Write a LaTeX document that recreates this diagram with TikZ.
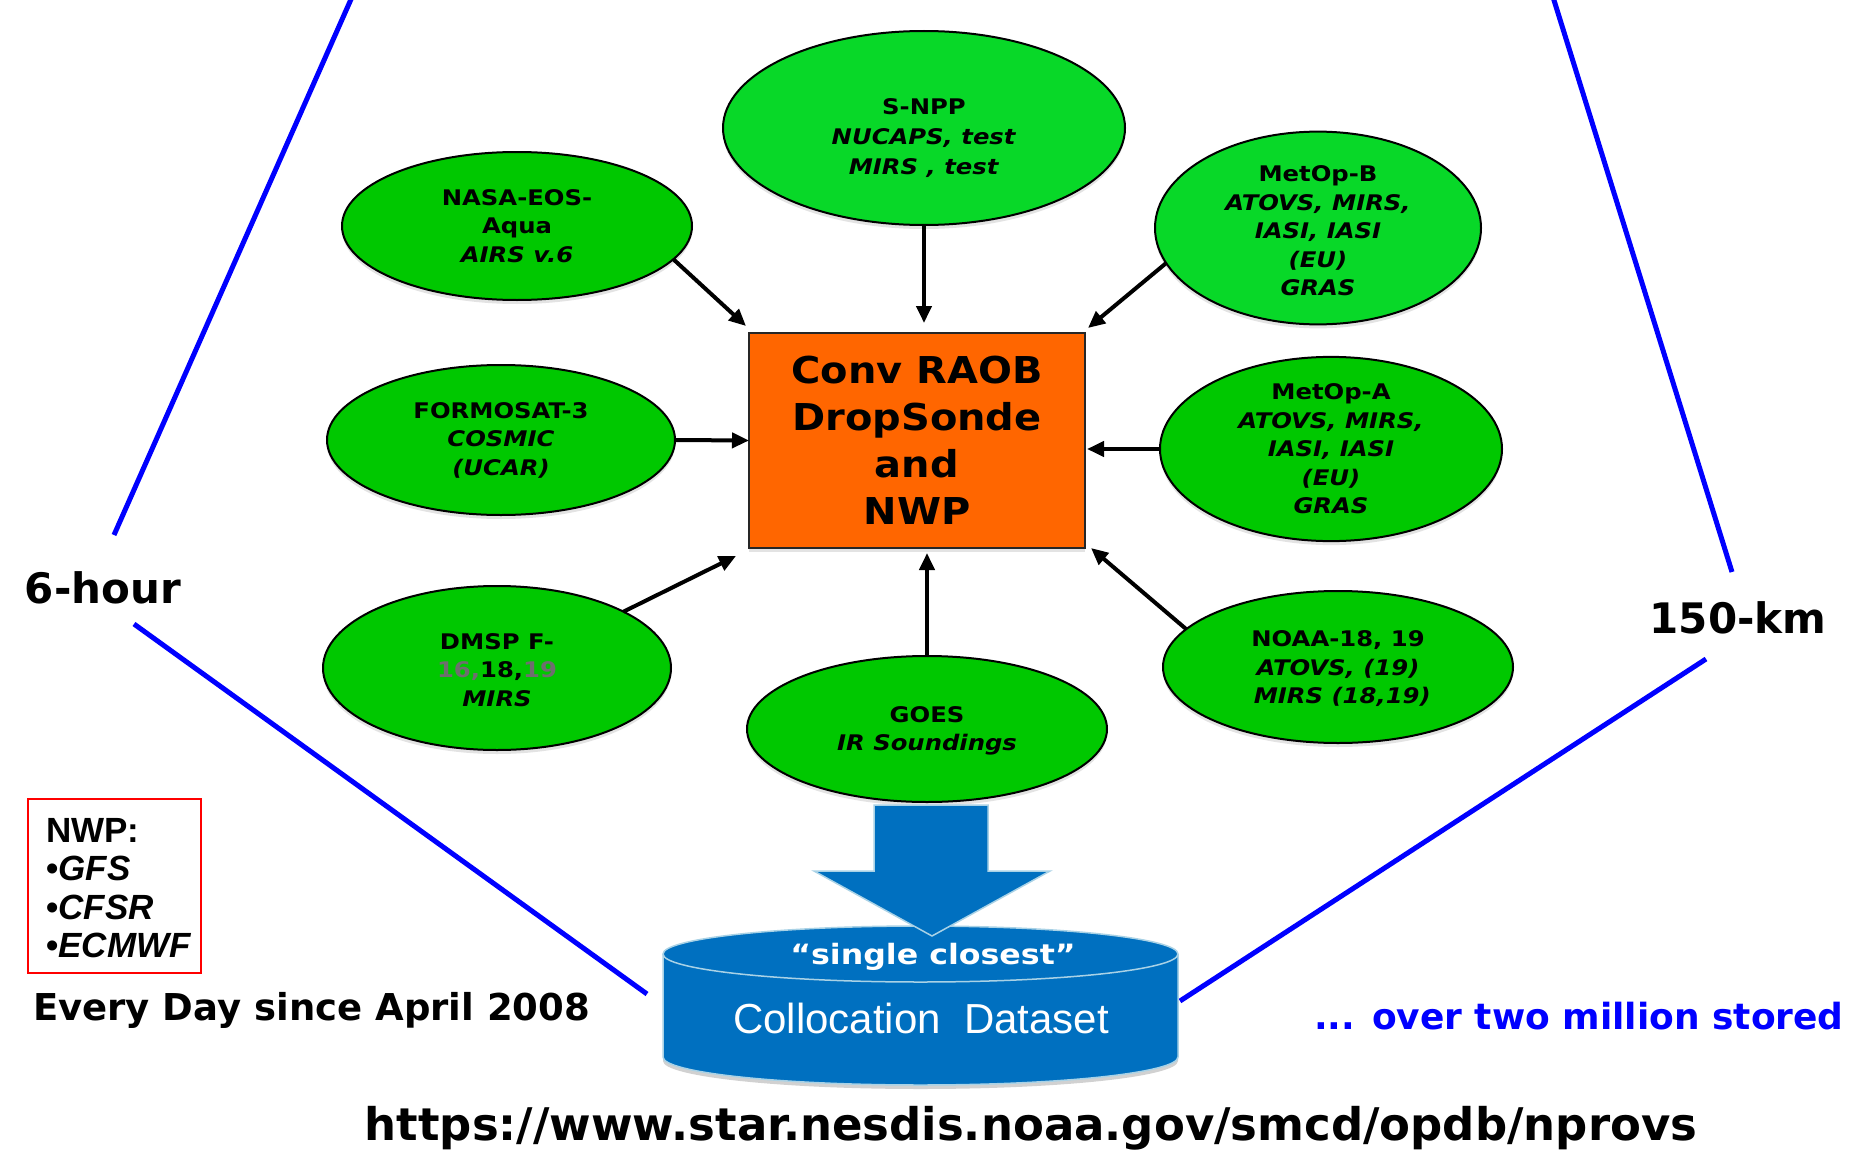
\documentclass[tikz,border=0pt]{standalone}
\usepackage{fontspec}
\setmainfont{DejaVu Sans}
\newfontfamily\wide[FakeStretch=1.13]{DejaVu Sans}
\newfontfamily\widebox[FakeStretch=1.08]{DejaVu Sans}
\newfontfamily\lib{Liberation Sans}
\usetikzlibrary{shapes.geometric,arrows.meta,shadows,calc}
\definecolor{gA}{HTML}{00C800}
\definecolor{gB}{HTML}{08D828}
\definecolor{orng}{HTML}{FF6600}
\definecolor{cylblue}{HTML}{0070C0}
\definecolor{cyledge}{HTML}{A9D2E6}
\definecolor{lineblue}{HTML}{0000FF}
\definecolor{numgray}{HTML}{6E6E6E}
\begin{document}
\begin{tikzpicture}[x=1pt,y=-1pt,
  sat/.style={ellipse, draw=black, line width=2pt, fill=gA, inner sep=0pt, outer sep=0pt,
    align=center, font=\wide\bfseries\fontsize{21.5}{28.5}\selectfont,
    drop shadow={shadow xshift=0pt,shadow yshift=-4pt,opacity=0.22}},
  arr/.style={line width=4pt, -{Triangle[length=17pt,width=15pt]}},
  bl/.style={draw=lineblue, line width=5pt},
]
\useasboundingbox (0,0) rectangle (1856,1156);
\fill[white] (0,0) rectangle (1856,1156);

% blue lines
\coordinate (l1a) at (352,-3);
\coordinate (l1b) at (114,535);
\coordinate (l2a) at (134,624);
\coordinate (l2b) at (647,994);
\coordinate (r1a) at (1553,-3);
\coordinate (r1b) at (1732,572);
\coordinate (r2a) at (1706,659);
\coordinate (r2b) at (1180,1001);
\draw[bl] (l1a) -- (l1b);
\draw[bl] (l2a) -- (l2b);
\draw[bl] (r1a) -- (r1b);
\draw[bl] (r2a) -- (r2b);

% central box
\node[draw=black!85, line width=2pt, fill=orng, minimum width=336pt, minimum height=215pt,
  inner sep=0pt, outer sep=0pt, align=center,
  font=\widebox\bfseries\fontsize{37}{47}\selectfont,
  drop shadow={shadow xshift=0pt,shadow yshift=-4pt,opacity=0.22}]
  (box) at (917,440.5) {Conv RAOB\\DropSonde\\and\\NWP};

% satellites
\node[sat, fill=gB, minimum width=402pt, minimum height=194pt,
  font=\wide\bfseries\fontsize{21.5}{30}\selectfont] (snpp) at (924,128)
  {\rule{0pt}{36pt}S-NPP\\\textit{NUCAPS, test}\\\textit{MIRS , test}};
\node[sat, minimum width=350pt, minimum height=148pt] (nasa) at (517,226)
  {NASA-EOS-\\Aqua\\\textit{AIRS v.6}};
\node[sat, fill=gB, minimum width=326pt, minimum height=150pt] (metb) at (1318,228)
  {\rule{0pt}{22pt}MetOp-B\\\textit{ATOVS, MIRS,}\\\textit{IASI, IASI}\\\textit{(EU)}\\\textit{GRAS}};
\node[sat, minimum width=348pt, minimum height=150pt] (form) at (501,440)
  {FORMOSAT-3\\\textit{COSMIC}\\\textit{(UCAR)}};
\node[sat, minimum width=342pt, minimum height=148pt] (meta) at (1331,449)
  {MetOp-A\\\textit{ATOVS, MIRS,}\\\textit{IASI, IASI}\\\textit{(EU)}\\\textit{GRAS}};
\node[sat, minimum width=348pt, minimum height=164pt] (dmsp) at (497,668)
  {\rule{0pt}{20pt}DMSP F-\\\textcolor{numgray}{16,}18,\textcolor{numgray}{19}\\\textit{MIRS}};
\node[sat, minimum width=360pt, minimum height=146pt] (goes) at (927,729)
  {\rule{0pt}{20pt}GOES\\\textit{IR Soundings}};
\node[sat, minimum width=350pt, minimum height=152pt] (noaa) at (1338,667)
  {\rule{0pt}{20pt}NOAA-18, 19\\\textit{ATOVS, (19)}\\\textit{\ MIRS (18,19)}};

% arrows into the box
\draw[arr] (nasa.-12) -- ($(box.north west)+(-3,-7)$);
\draw[arr] (snpp.south) -- ($(snpp.south |- box.north)+(0,-10)$);
\draw[arr] (metb.193.7) -- ($(box.north east)+(3,-5)$);
\draw[arr] (form.east) -- (box.west);
\draw[arr] (meta.west) -- ($(meta.west -| box.east)+(2,0)$);
\draw[arr] (dmsp.24.7) -- ($(box.south west)+(-13,8)$);
\draw[arr] (goes.north) -- ($(goes.north |- box.south)+(0,5)$);
\draw[arr] (noaa.166.5) -- ($(box.south east)+(6,0)$);

% cylinder
\fill[black, opacity=0.18] (663,960) -- (663,1061) arc[start angle=180, end angle=360, x radius=257.5pt, y radius=28pt] -- (1178,960) -- cycle;
\fill[cylblue] (663,954) -- (663,1057) arc[start angle=180, end angle=360, x radius=257.5pt, y radius=28pt] -- (1178,954) -- cycle;
\draw[cyledge, line width=1.5pt] (663,954) -- (663,1057) arc[start angle=180, end angle=360, x radius=257.5pt, y radius=28pt] -- (1178,954);
\draw[fill=cylblue, draw=cyledge, line width=1.5pt] (920.5,954) ellipse [x radius=257.5pt, y radius=28pt];

% block arrow
\filldraw[fill=cylblue, draw=cyledge, line width=1.5pt]
  (874,805) -- (988,805) -- (988,871) -- (1050,871) -- (932,936) -- (814,871) -- (874,871) -- cycle;

\node[text=white, font=\wide\bfseries\fontsize{28}{32}\selectfont] (single) at (933,957) {“single closest”};
\node[text=white, font=\lib\fontsize{42}{48}\selectfont] (coll) at (921,1018) {Collocation\ \ Dataset};

% side labels
\node[font=\bfseries\fontsize{42}{46}\selectfont] (sixh) at (103,588) {6-hour};
\node[font=\bfseries\fontsize{42}{46}\selectfont] (km) at (1738,618) {150-km};

% NWP box
\node[draw=red, line width=2pt, minimum width=173pt, minimum height=174pt, inner sep=0pt] (nwpbox) at (114.5,886) {};
\node[anchor=west, align=left, inner sep=0pt, font=\lib\bfseries\fontsize{35}{38.5}\selectfont] (nwptext) at (46,888)
  {NWP:\\•\textit{GFS}\\•\textit{CFSR}\\•\textit{ECMWF}};

\node[anchor=west, inner sep=0pt, font=\bfseries\fontsize{37}{42}\selectfont] (every) at (33,1010) {Every Day since April 2008};
\node[anchor=center, inner sep=0pt, text=lineblue, font=\bfseries\fontsize{36}{42}\selectfont] (over) at (1579,1016) {... over two million stored};
\node[inner sep=0pt, font=\bfseries\fontsize{45}{48}\selectfont] (url) at (1031,1128) {https://www.star.nesdis.noaa.gov/smcd/opdb/nprovs};
\end{tikzpicture}
\end{document}
